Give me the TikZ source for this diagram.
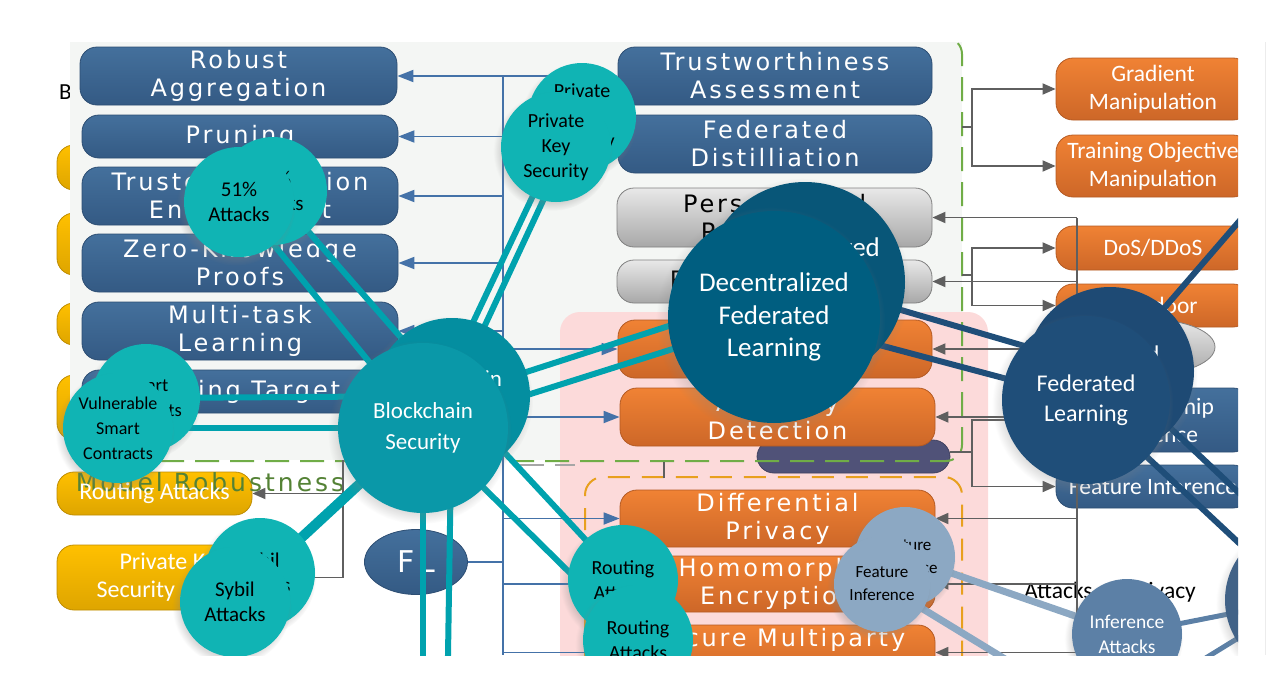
\documentclass[tikz,border=0pt]{standalone}
\usepackage{fontspec}
\setmainfont{Carlito}
\newfontfamily\boxfont[LetterSpace=12]{DejaVu Sans}
\usetikzlibrary{shadows,arrows.meta,shapes.geometric}
\definecolor{bluet}{RGB}{68,112,156}
\definecolor{blueb}{RGB}{52,90,132}
\definecolor{blued}{RGB}{45,78,115}
\definecolor{orat}{RGB}{240,130,52}
\definecolor{orab}{RGB}{205,103,40}
\definecolor{orad}{RGB}{180,90,35}
\definecolor{grayt}{RGB}{232,232,232}
\definecolor{grayb}{RGB}{168,168,168}
\definecolor{grayd}{RGB}{128,128,128}
\definecolor{yelt}{RGB}{255,192,0}
\definecolor{yelb}{RGB}{222,165,0}
\definecolor{yeld}{RGB}{190,140,0}
\definecolor{tealc}{RGB}{16,180,180}
\definecolor{tealline}{RGB}{0,162,174}
\definecolor{bsc}{RGB}{10,152,168}
\definecolor{bsbc}{RGB}{4,142,160}
\definecolor{dflc}{RGB}{0,94,128}
\definecolor{dflbc}{RGB}{8,86,120}
\definecolor{flc}{RGB}{31,78,121}
\definecolor{flbc}{RGB}{30,74,116}
\definecolor{fic}{RGB}{140,168,195}
\definecolor{iac}{RGB}{92,128,166}
\definecolor{rcc}{RGB}{65,98,135}
\definecolor{connb}{RGB}{68,114,168}
\definecolor{conng}{RGB}{95,95,95}
\definecolor{pinkc}{RGB}{252,218,218}
\definecolor{greend}{RGB}{112,173,71}
\definecolor{oranged}{RGB}{232,160,30}
\definecolor{greentxt}{RGB}{84,130,53}
\definecolor{purplec}{RGB}{80,82,120}
\definecolor{panelc}{RGB}{244,246,244}
\tikzset{
  bbase/.style={rounded corners=17pt, inner sep=0pt, align=center, line width=0.8pt},
  bfont/.style={font=\boxfont\fontsize{24}{28}\selectfont},
  cfont/.style={font=\fontsize{23.5}{28}\selectfont},
  bluebox/.style={bbase, bfont, top color=bluet, bottom color=blueb, draw=blued, text=white},
  orangebox/.style={bbase, bfont, top color=orat, bottom color=orab, draw=orad, text=white},
  graybox/.style={bbase, bfont, top color=grayt, bottom color=grayb, draw=grayd, text=black},
  yellowbox/.style={bbase, cfont, top color=yelt, bottom color=yelb, draw=yeld, text=white},
  rorange/.style={orangebox, cfont},
  rblue/.style={bluebox, cfont},
  circ/.style={circle, inner sep=0pt, align=center,
    circular drop shadow={opacity=0.3, shadow xshift=-3pt, shadow yshift=-4pt, shadow scale=1.08}},
  tealcirc/.style={circ, fill=tealc, text=black, font=\fontsize{20}{25}\selectfont},
  bigcirc/.style={circ, text=white, font=\fontsize{23}{31}\selectfont},
  bl/.style={draw=connb, line width=1.8pt},
  bla/.style={-{Triangle[length=16pt,width=12pt]}},
  gl/.style={draw=conng, line width=1.8pt},
  gla/.style={-{Triangle[length=13pt,width=11pt]}},
  tl/.style={draw=tealline, line width=6pt},
  dl/.style={draw=flc, line width=6pt},
  fil/.style={draw=fic, line width=7pt},
  ial/.style={draw=iac, line width=5pt},
}
\begin{document}
\begin{tikzpicture}[x=1pt,y=-1pt]
\useasboundingbox (0,0) rectangle (1283,699);
\coordinate (edgeT) at (1265,42);
\coordinate (edgeB) at (1265,655);
\draw[gray!15, line width=1pt] (edgeT) -- (edgeB);
\begin{scope}
\clip (0,42) rectangle (1238,655);
% yellow boxes behind the panel
\node[yellowbox, minimum width=242pt, minimum height=45pt] (y1) at (178,167.5) {};
\node[yellowbox, minimum width=242pt, minimum height=62pt] (y2) at (178,244) {};
\node[yellowbox, minimum width=242pt, minimum height=42pt] (y3) at (178,324) {};
\node[yellowbox, minimum width=242pt, minimum height=65pt] (y4) at (178,407.5) {};
\node[font=\fontsize{23}{28}\selectfont, anchor=west, inner sep=0pt] (btxt) at (59,92) {B};
% panel and pink region
\fill[panelc] (70,42) rectangle (962,460);
\fill[pinkc, rounded corners=20pt] (560,312) rectangle (988,700);
% left blue boxes
\node[bluebox, minimum width=317pt, minimum height=58pt] (ra) at (238.5,76) {Robust\\Aggregation};
\node[bluebox, minimum width=316pt, minimum height=43pt] (pr) at (240,136.5) {Pruning};
\node[bluebox, minimum width=316pt, minimum height=58pt] (tee) at (240,196) {Trusted Execution\\Environment};
\node[bluebox, minimum width=316pt, minimum height=58pt] (zkp) at (240,263) {Zero-Knowledge\\Proofs};
\node[bluebox, minimum width=316pt, minimum height=58pt] (mtl) at (240,331) {Multi-task\\Learning};
\node[bluebox, minimum width=316pt, minimum height=43pt] (mt) at (240,391.5) {Moving Target};
% bottom-left yellow boxes
\node[yellowbox, minimum width=195pt, minimum height=43pt] (yra) at (154.5,493.5) {};
\node[font=\boxfont\fontsize{25}{28}\selectfont, text=greentxt, inner sep=0pt] (mr) at (210,482) {Model Robustness};
\node[font=\fontsize{24}{28}\selectfont, text=white, inner sep=0pt] (yrat) at (yra) {Routing Attacks};
\node[yellowbox, minimum width=233pt, minimum height=65pt, font=\fontsize{24}{28}\selectfont] (ypk) at (173.5,577.5) {Private Key\\Security Attacks};
% FL ellipse
\node[ellipse, top color=bluet, bottom color=blueb, draw=blued, line width=0.8pt, minimum width=103pt, minimum height=65pt, inner sep=0pt, text=white, font=\boxfont\fontsize{30}{30}\selectfont] (fle) at (416,562) {FL};
% middle column
\node[bluebox, minimum width=314pt, minimum height=58pt] (ta) at (775,76) {Trustworthiness\\Assessment};
\node[bluebox, minimum width=314pt, minimum height=58pt] (fd) at (775,144) {Federated\\Distilliation};
\node[graybox, minimum width=315pt, minimum height=59pt] (gb1) at (774.5,217.5) {Personalized\\Protection};
\node[graybox, minimum width=315pt, minimum height=43pt] (gb2) at (774.5,281.5) {Regularization};
\node[orangebox, minimum width=314pt, minimum height=58pt] (o1) at (775,349) {};
\node[bbase, fill=purplec, draw=purplec!80!black, minimum width=193pt, minimum height=33pt] (pu) at (853.5,456.5) {};
\node[orangebox, minimum width=315pt, minimum height=58pt] (ad) at (777.5,417) {Anomaly\\Detection};
\node[orangebox, minimum width=315pt, minimum height=57pt] (dp) at (777.5,518.5) {Differential\\Privacy};
\node[orangebox, minimum width=315pt, minimum height=56pt] (he) at (777.5,584) {Homomorphic\\Encryption};
\node[orangebox, minimum width=315pt, minimum height=55pt] (smc) at (777.5,652.5) {};
\node[bfont, text=white, inner sep=0pt] (smct) at (777.5,640) {Secure Multiparty};
% right column
\node[rorange, minimum width=194pt, minimum height=62pt] (gm) at (1153,89) {Gradient\\Manipulation};
\node[rorange, minimum width=194pt, minimum height=62pt] (tom) at (1153,166) {Training Objective\\Manipulation};
\node[rorange, minimum width=194pt, minimum height=44pt] (dos) at (1153,248) {DoS/DDoS};
\node[rorange, minimum width=194pt, minimum height=43pt] (bd) at (1153,305.5) {Backdoor};
\node[ellipse, top color=grayt, bottom color=grayb, draw=grayd, line width=0.8pt, minimum width=130pt, minimum height=55pt] (ge) at (1150,347) {};
\node[rblue, minimum width=194pt, minimum height=64pt] (mi) at (1153,420) {Membership\\Inference};
\node[rblue, minimum width=194pt, minimum height=43pt] (fi) at (1153,486.5) {Feature Inference};
\node[cfont, text=black, inner sep=0pt] (aop) at (1110,592) {Attacks on Privacy};
% dashed group borders
\draw[greend, line width=2pt, dash pattern=on 24pt off 11pt, rounded corners=16pt] (160,461) -| (962,38) -- (600,38);
\draw[oranged, line width=2pt, dash pattern=on 22pt off 12pt, rounded corners=18pt] (585,700) |- (962,477) -- (962,700);
\coordinate (gdA) at (520,465);
\coordinate (gdB) at (575,465);
\draw[gray!70, line width=2pt, dash pattern=on 24pt off 11pt] (gdA) -- (gdB);
% blue trunk connectors
\coordinate (trunkT) at (503,76);
\coordinate (trunkB) at (503,655);
\draw[bl] (trunkT) -- (trunkB);
\foreach \n in {ra,pr,tee,zkp,mtl,mt} \draw[bl,bla] (trunkT |- \n.east) -- (\n.east);
\foreach \n in {ta,o1,ad,dp,he,smc} \draw[bl,bla] (trunkT |- \n.west) -- (\n.west);
\draw[bl] (fle.east) -- (trunkT |- fle.east);
% gray connectors
\coordinate (g1s) at (962,127); \coordinate (g1j) at (972,127);
\draw[gl] (g1s) -- (g1j);
\draw[gl,gla] (g1j) |- (gm.west);
\draw[gl,gla] (g1j) |- (tom.west);
\coordinate (g2s) at (962,275); \coordinate (g2j) at (972,275);
\draw[gl] (g2s) -- (g2j);
\draw[gl,gla] (g2j) |- (dos.west);
\draw[gl,gla] (g2j) |- (bd.west);
\coordinate (g4s) at (950,452); \coordinate (g4j) at (972,452);
\draw[gl] (g4s) -- (g4j);
\draw[gl,gla] (g4j) |- (mi.west);
\draw[gl,gla] (g4j) |- (fi.west);
\coordinate (g3T) at (1077,218); \coordinate (g3B) at (1077,655);
\draw[gl] (g3T) -- (g3B);
\foreach \n in {gb1,gb2,o1,ad,dp,he,smc} \draw[gl,gla] (g3T |- \n.east) -- (\n.east);
\coordinate (g5T) at (343,460); \coordinate (g5B) at (343,577.5);
\draw[gl] (g5T) -- (g5B);
\draw[gl,gla] (g5T |- yra.east) -- (yra.east);
\draw[gl,gla] (g5B) -- (ypk.east);
\coordinate (puA) at (664,462); \coordinate (puB) at (664,478);
\draw[gl] (puA) -- (puB);
% helper coordinates for off-picture ends
\coordinate (bsd1) at (423,720);
\coordinate (bsd2) at (447,720);
\coordinate (flup) at (1330,116);
\coordinate (iab) at (1105,720);
\coordinate (rcb) at (1310,560);
% circle centres
\path
  (273,191) coordinate (a51bC) (239,202) coordinate (a51C)
  (582,117) coordinate (pkbC) (556,147) coordinate (pkC)
  (146,398) coordinate (scbC) (118,428) coordinate (scC)
  (452,396) coordinate (bsbC) (423,428) coordinate (bsC)
  (260,573) coordinate (sybC) (235,602) coordinate (syC)
  (623,580) coordinate (rtbC) (638,640) coordinate (rtC)
  (805,282) coordinate (dflbC) (774,317) coordinate (dflC)
  (1110,371) coordinate (flbC) (1086,400) coordinate (flC)
  (905,557) coordinate (fibC) (882,584) coordinate (fiC)
  (1127,634) coordinate (iaC) (1300,600) coordinate (rcC);
% lines
\draw[tl] (a51C) -- (bsC); \draw[tl] (a51bC) -- (bsbC);
\draw[tl] (pkC) -- (bsC); \draw[tl] (pkbC) -- (bsbC);
\draw[tl] (scC) -- (bsC); \draw[tl] (scbC) -- (bsbC);
\draw[tl] (syC) -- (bsC); \draw[tl] (sybC) -- (bsbC);
\draw[tl] (rtC) -- (bsC); \draw[tl] (rtbC) -- (bsbC);
\draw[tl] (bsC) -- (dflC); \draw[tl] (bsbC) -- (dflbC);
\draw[tl] (bsC) -- (bsd1); \draw[tl] (bsbC) -- (bsd2);
\draw[dl] (dflC) -- (flC); \draw[dl] (dflbC) -- (flbC);
\draw[dl] (flbC) -- (flup);
\draw[dl] (flC) -- (rcC); \draw[dl] (flbC) -- (rcb);
\draw[fil] (fibC) -- (iaC); \draw[fil] (fiC) -- (iab);
\draw[ial] (iaC) -- (rcC); \draw[ial] (iab) -- (rcC);
% circles
\node[tealcirc, minimum size=108pt, font=\fontsize{21}{25}\selectfont] (a51b) at (a51bC) {51\%\\Attacks};
\node[tealcirc, minimum size=110pt, font=\fontsize{21}{25}\selectfont] (a51) at (a51C) {51\%\\Attacks};
\node[tealcirc, minimum size=108pt] (pkb) at (pkbC) {Private\\Key\\Security};
\node[tealcirc, minimum size=110pt] (pk) at (pkC) {Private\\Key\\Security};
\node[tealcirc, minimum size=108pt, font=\fontsize{18.5}{25}\selectfont] (scb) at (scbC) {Smart\\Contracts};
\node[tealcirc, minimum size=110pt, font=\fontsize{18}{25}\selectfont] (sc) at (scC) {Vulnerable\\Smart\\Contracts};
\node[bigcirc, fill=bsbc, minimum size=156pt] (bsb) at (bsbC) {Blockchain\\Security};
\node[bigcirc, fill=bsc, minimum size=170pt] (bs) at (bsC) {Blockchain\\Security};
\node[tealcirc, minimum size=110pt, font=\fontsize{21}{25}\selectfont] (syb) at (sybC) {Sybil\\Attacks};
\node[tealcirc, minimum size=110pt, font=\fontsize{21}{25}\selectfont] (sy) at (syC) {Sybil\\Attacks};
\node[tealcirc, minimum size=110pt] (rtb) at (rtbC) {Routing\\Attacks};
\node[tealcirc, minimum size=110pt] (rt) at (rtC) {Routing\\Attacks};
\node[bigcirc, fill=dflbc, minimum size=200pt, font=\fontsize{27}{32.5}\selectfont] (dflb) at (dflbC) {Decentralized\\Federated\\Learning};
\node[bigcirc, fill=dflc, minimum size=212pt, font=\fontsize{27}{32.5}\selectfont] (dfl) at (dflC) {Decentralized\\Federated\\Learning};
\node[bigcirc, fill=flbc, minimum size=168pt, font=\fontsize{24}{30}\selectfont] (flb) at (flbC) {Federated\\Learning};
\node[bigcirc, fill=flc, minimum size=168pt, font=\fontsize{24}{30}\selectfont] (fl) at (flC) {Federated\\Learning};
\node[circ, fill=fic, minimum size=100pt, text=black, font=\fontsize{17}{23}\selectfont] (fib) at (fibC) {Feature\\Inference};
\node[circ, fill=fic, minimum size=96pt, text=black, font=\fontsize{17}{23}\selectfont] (fin) at (fiC) {Feature\\Inference};
\node[circ, fill=iac, minimum size=110pt, text=white, font=\fontsize{19.5}{25}\selectfont] (ia) at (iaC) {Inference\\Attacks};
\node[circ, fill=rcc, minimum size=150pt] (rc) at (rcC) {};
\end{scope}
\end{tikzpicture}
\end{document}
